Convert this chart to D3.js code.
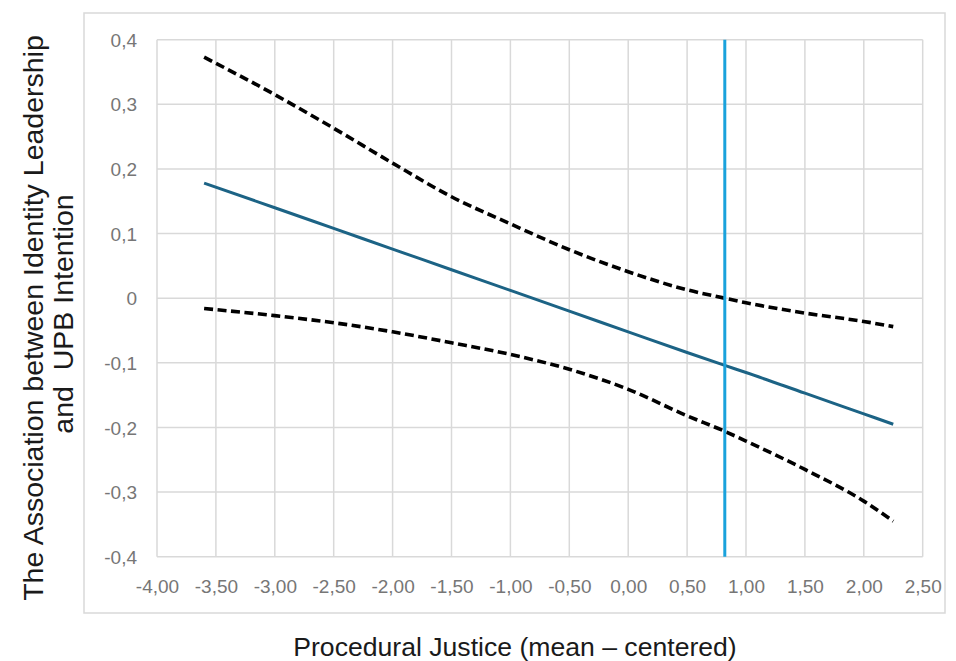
<!DOCTYPE html>
<html>
<head>
<meta charset="utf-8">
<script src="https://cdn.jsdelivr.net/npm/d3@7"></script>
<style>
  body { margin: 0; background: #ffffff; }
  text { font-family: "Liberation Sans", Arial, sans-serif; }
</style>
</head>
<body>
<div id="chart"></div>
<script>
// Data
var xValues   = [-3.6, -3.0, -2.5, -2.0, -1.5, -1.0, -0.5, 0.0, 0.5, 0.82, 1.0, 1.5, 2.0, 2.25];
var upperCI   = [0.373, 0.315, 0.263, 0.209, 0.157, 0.115, 0.075, 0.041, 0.013, 0.0, -0.007, -0.023, -0.036, -0.044];
var effect    = [0.178, 0.140, 0.108, 0.076, 0.044, 0.012, -0.020, -0.052, -0.084, -0.104, -0.115, -0.147, -0.179, -0.195];
var lowerCI   = [-0.016, -0.027, -0.038, -0.052, -0.069, -0.087, -0.110, -0.141, -0.182, -0.206, -0.221, -0.265, -0.314, -0.345];
var jnPoint   = 0.82;

var xTicks      = [-4, -3.5, -3, -2.5, -2, -1.5, -1, -0.5, 0, 0.5, 1, 1.5, 2, 2.5];
var xTickLabels = ["-4,00", "-3,50", "-3,00", "-2,50", "-2,00", "-1,50", "-1,00", "-0,50", "0,00", "0,50", "1,00", "1,50", "2,00", "2,50"];
var yTicks      = [-0.4, -0.3, -0.2, -0.1, 0, 0.1, 0.2, 0.3, 0.4];
var yTickLabels = ["-0,4", "-0,3", "-0,2", "-0,1", "0", "0,1", "0,2", "0,3", "0,4"];

var svgWidth = 956;
var svgHeight = 661;

var svg = d3.select("#chart")
  .append("svg")
  .attr("width", svgWidth)
  .attr("height", svgHeight);

// outer chart frame
svg.append("rect")
  .attr("x", 84)
  .attr("y", 13)
  .attr("width", 861)
  .attr("height", 600)
  .attr("fill", "none")
  .attr("stroke", "#d9d9d9")
  .attr("stroke-width", 1.5);

var xScale = d3.scaleLinear().domain([-4, 2.5]).range([157, 922.7]);
var yScale = d3.scaleLinear().domain([-0.4, 0.4]).range([556.7, 39.7]);

// gridlines
svg.append("g")
  .selectAll("line")
  .data(xTicks)
  .enter()
  .append("line")
  .attr("x1", d => xScale(d))
  .attr("x2", d => xScale(d))
  .attr("y1", yScale(0.4))
  .attr("y2", yScale(-0.4))
  .attr("stroke", "#d9d9d9")
  .attr("stroke-width", 1.5);

svg.append("g")
  .selectAll("line")
  .data(yTicks)
  .enter()
  .append("line")
  .attr("x1", xScale(-4))
  .attr("x2", xScale(2.5))
  .attr("y1", d => yScale(d))
  .attr("y2", d => yScale(d))
  .attr("stroke", "#d9d9d9")
  .attr("stroke-width", 1.5);

// axes (labels only)
var bottomAxis = d3.axisBottom(xScale)
  .tickValues(xTicks)
  .tickSize(0)
  .tickPadding(0)
  .tickFormat((d, i) => xTickLabels[i]);

var leftAxis = d3.axisLeft(yScale)
  .tickValues(yTicks)
  .tickSize(0)
  .tickPadding(0)
  .tickFormat((d, i) => yTickLabels[i]);

var xAxisG = svg.append("g")
  .attr("transform", "translate(0, 593)")
  .call(bottomAxis);
xAxisG.select(".domain").remove();
xAxisG.selectAll("text")
  .attr("dy", 0)
  .attr("y", 0)
  .attr("font-size", "19px")
  .attr("font-family", "'Liberation Sans', Arial, sans-serif")
  .attr("fill", "#767676");

var yAxisG = svg.append("g")
  .attr("transform", "translate(137, 0)")
  .call(leftAxis);
yAxisG.select(".domain").remove();
yAxisG.selectAll("text")
  .attr("x", 0)
  .attr("dy", "0.35em")
  .attr("font-size", "19px")
  .attr("font-family", "'Liberation Sans', Arial, sans-serif")
  .attr("fill", "#767676");

// lines
var rows = xValues.map((x, i) => ({ x: x, up: upperCI[i], mid: effect[i], low: lowerCI[i] }));

var curveLine = key => d3.line()
  .x(d => xScale(d.x))
  .y(d => yScale(d[key]))
  .curve(d3.curveMonotoneX);

svg.append("path")
  .datum(rows)
  .attr("d", curveLine("up"))
  .attr("fill", "none")
  .attr("stroke", "#000")
  .attr("stroke-width", 3.6)
  .attr("stroke-dasharray", "9,4.5");

svg.append("path")
  .datum(rows)
  .attr("d", curveLine("low"))
  .attr("fill", "none")
  .attr("stroke", "#000")
  .attr("stroke-width", 3.6)
  .attr("stroke-dasharray", "9,4.5");

svg.append("path")
  .datum(rows)
  .attr("d", curveLine("mid"))
  .attr("fill", "none")
  .attr("stroke", "#1c6385")
  .attr("stroke-width", 3);

// Johnson-Neyman point
svg.append("line")
  .attr("x1", xScale(jnPoint))
  .attr("x2", xScale(jnPoint))
  .attr("y1", yScale(0.4))
  .attr("y2", yScale(-0.4))
  .attr("stroke", "#1aa2dc")
  .attr("stroke-width", 3);

// axis titles
svg.append("text")
  .attr("transform", "translate(43, 318) rotate(-90)")
  .attr("text-anchor", "middle")
  .attr("font-size", "28.5px")
  .attr("fill", "#1a1a1a")
  .text("The Association between Identity Leadership");

svg.append("text")
  .attr("transform", "translate(73, 314) rotate(-90)")
  .attr("text-anchor", "middle")
  .attr("font-size", "28.5px")
  .attr("fill", "#1a1a1a")
  .attr("xml:space", "preserve")
  .style("white-space", "pre")
  .text("and  UPB Intention");

svg.append("text")
  .attr("x", 515)
  .attr("y", 656)
  .attr("text-anchor", "middle")
  .attr("font-size", "26.6px")
  .attr("fill", "#1a1a1a")
  .text("Procedural Justice (mean \u2013 centered)");
</script>
</body>
</html>
